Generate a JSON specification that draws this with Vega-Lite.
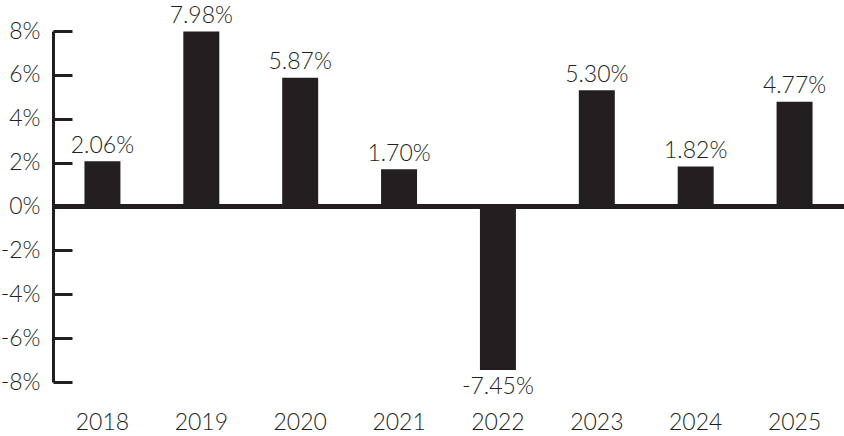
{
  "$schema": "https://vega.github.io/schema/vega-lite/v6.json",
  "width": 791,
  "height": 351,
  "autosize": {"type": "none"},
  "padding": {"left": 53, "top": 31, "right": 0, "bottom": 54},
  "background": "white",
  "config": {
    "view": {"stroke": null},
    "locale": {"number": {"decimal": ".", "thousands": ",", "grouping": [3], "currency": ["$", ""], "minus": "-"}},
    "font": "Lato",
    "axis": {"labelFont": "Lato", "labelFontWeight": 300, "labelFontSize": 23, "labelColor": "#231f20", "title": null, "grid": false}
  },
  "data": {
    "values": [
      {"year": "2018", "ret": 0.0206},
      {"year": "2019", "ret": 0.0798},
      {"year": "2020", "ret": 0.0587},
      {"year": "2021", "ret": 0.0170},
      {"year": "2022", "ret": -0.0745},
      {"year": "2023", "ret": 0.0530},
      {"year": "2024", "ret": 0.0182},
      {"year": "2025", "ret": 0.0477}
    ]
  },
  "encoding": {
    "x": {
      "field": "year", "type": "nominal",
      "scale": {"paddingInner": 0.636, "paddingOuter": 0.318},
      "axis": {"orient": "bottom", "domain": false, "ticks": false, "labelAngle": 0, "labelPadding": 29}
    },
    "y": {
      "field": "ret", "type": "quantitative",
      "scale": {"domain": [-0.08, 0.08], "nice": false},
      "axis": {
        "values": [-0.08, -0.06, -0.04, -0.02, 0, 0.02, 0.04, 0.06, 0.08],
        "format": ".0%",
        "domain": true, "domainColor": "#231f20", "domainWidth": 3,
        "ticks": true, "tickColor": "#231f20", "tickWidth": 3, "tickSize": -19,
        "labelPadding": 32, "labelBaseline": "middle"
      }
    }
  },
  "layer": [
    {"mark": {"type": "bar", "color": "#231f20"}},
    {
      "mark": {"type": "rule", "color": "#231f20", "strokeWidth": 4},
      "encoding": {"x": null, "y": {"datum": 0, "type": "quantitative"}}
    },
    {
      "transform": [{"filter": "datum.ret >= 0"}],
      "mark": {"type": "text", "baseline": "alphabetic", "dy": -8.5, "fontSize": 23, "fontWeight": 300, "color": "#231f20", "font": "Lato"},
      "encoding": {"text": {"field": "ret", "type": "quantitative", "format": ".2%"}}
    },
    {
      "transform": [{"filter": "datum.ret < 0"}],
      "mark": {"type": "text", "baseline": "alphabetic", "dy": 24.5, "fontSize": 23, "fontWeight": 300, "color": "#231f20", "font": "Lato"},
      "encoding": {"text": {"field": "ret", "type": "quantitative", "format": ".2%"}}
    }
  ]
}
